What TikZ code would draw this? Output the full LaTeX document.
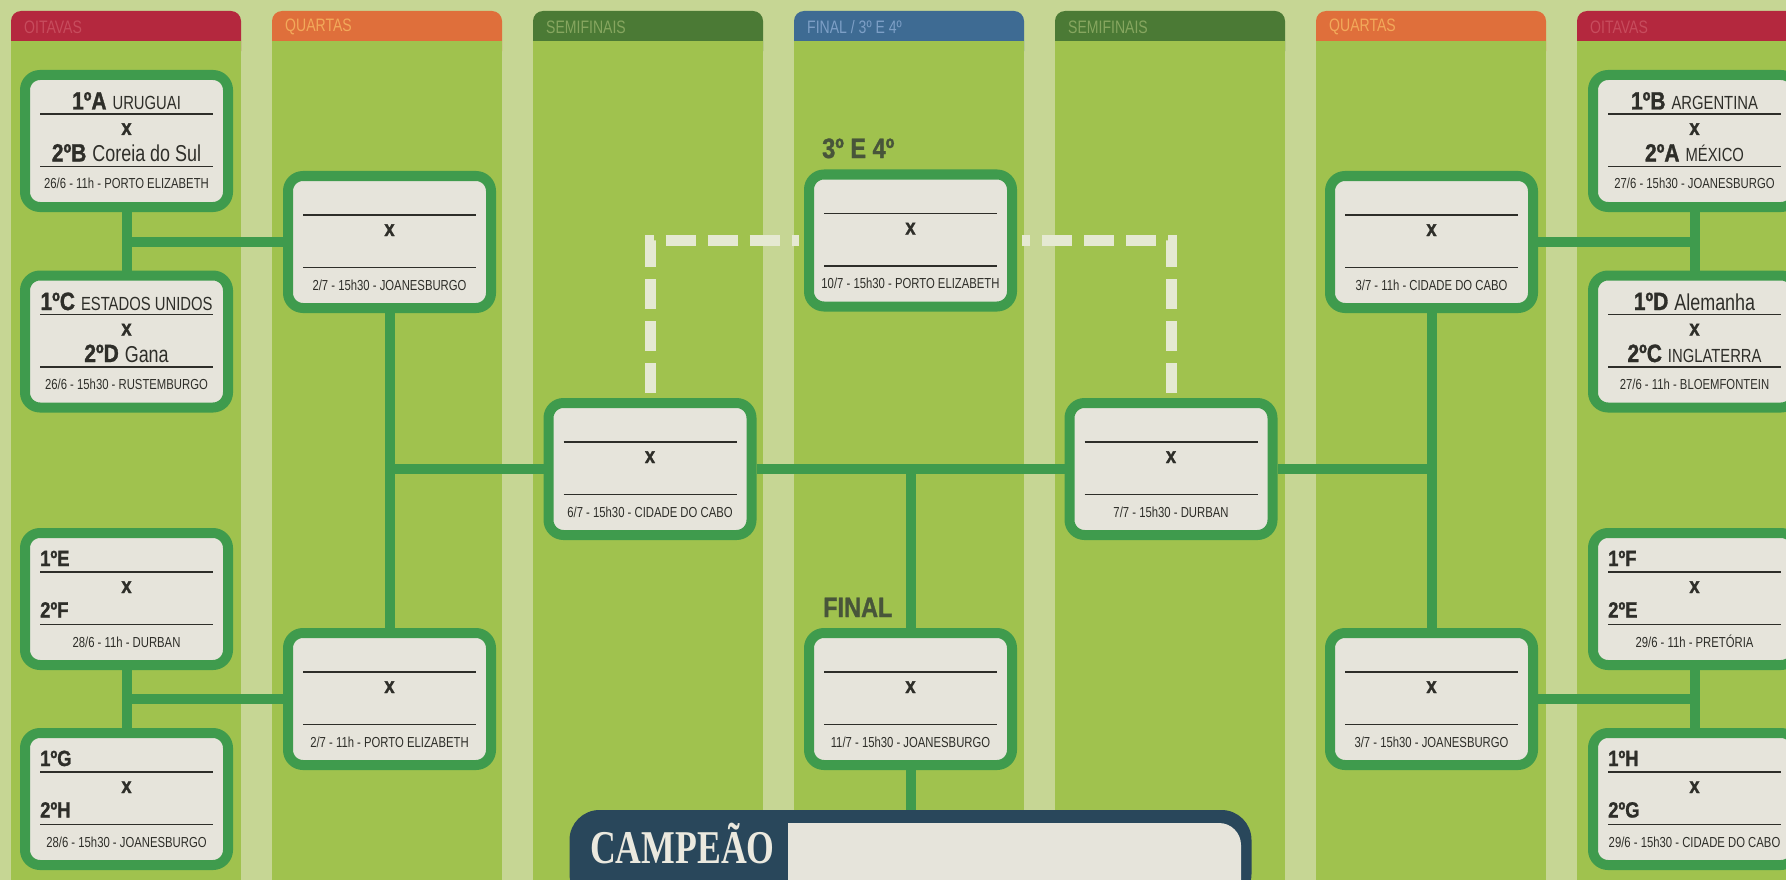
\documentclass[tikz,border=0pt]{standalone}
\usepackage{fontspec}
\setmainfont{Liberation Sans}[FakeStretch=0.78]
\newfontfamily\codefont{Liberation Sans}[FakeStretch=0.84, FakeBold=1.2]
\newfontfamily\champfont{Liberation Serif}[FakeStretch=0.76]
\usetikzlibrary{calc}

\definecolor{paper}{HTML}{C6D694}
\definecolor{colbody}{HTML}{A0C24E}
\definecolor{oitred}{HTML}{B4283E}
\definecolor{oitredtext}{HTML}{C74C5D}
\definecolor{quaorange}{HTML}{DF6F3B}
\definecolor{quaorangetext}{HTML}{F2A95A}
\definecolor{semigreen}{HTML}{4B7A35}
\definecolor{semigreentext}{HTML}{86A65F}
\definecolor{finblue}{HTML}{3E6B93}
\definecolor{finbluetext}{HTML}{7D9FC6}
\definecolor{boxgreen}{HTML}{3F9B4D}
\definecolor{boxfill}{HTML}{E6E4DB}
\definecolor{ink}{HTML}{2E2E29}
\definecolor{dashcol}{HTML}{E5E9D2}
\definecolor{labelink}{HTML}{48553A}
\definecolor{champdark}{HTML}{29475B}
\definecolor{champtext}{HTML}{EBE9DF}

\newcommand\seed[1]{{\codefont\bfseries\fontsize{25}{25}\selectfont#1}\hspace{6pt}}
\newcommand\bigname[1]{{\fontsize{23}{23}\selectfont#1}}
\newcommand\capname[1]{{\fontsize{19}{19}\selectfont#1}}

\begin{document}
\begin{tikzpicture}[x=1pt, y=-1pt,
        game/.style={draw=boxgreen, line width=10pt, fill=boxfill, rounded corners=15pt,
            minimum width=203pt, minimum height=132pt, inner sep=0pt},
        link/.style={draw=boxgreen, line width=10pt},
        third place/.style={draw=dashcol, line width=11pt, dash pattern=on 30pt off 12pt,
            shorten <=5pt, shorten >=5pt},
        rule/.style={draw=ink, line width=1.3pt},
        head/.style={anchor=west, inner sep=0pt, font=\fontsize{18}{18}\selectfont},
        team/.style={anchor=base, inner sep=0pt, text=ink},
        seedleft/.style={anchor=base west, inner sep=0pt, text=ink,
            font=\codefont\bfseries\fontsize{22}{22}\selectfont},
        versus/.style={anchor=base, inner sep=0pt, text=ink,
            font=\codefont\bfseries\fontsize{22}{22}\selectfont},
        when/.style={anchor=base, inner sep=0pt, text=ink, font=\fontsize{14.5}{14.5}\selectfont},
        round label/.style={anchor=base west, inner sep=0pt, text=labelink,
            font=\codefont\bfseries\fontsize{28}{28}\selectfont},
        champ/.style={fill=champdark, rounded corners=30pt, minimum width=682pt,
            minimum height=94pt, inner sep=0pt}]

    \useasboundingbox (0,0) rectangle (1786,880);
    \clip (0,0) rectangle (1786,880);
    \fill[paper] (0,0) rectangle (1786,880);

    % columns and their headers
    \foreach \i/\hcol/\tcol/\htext in {0/oitred/oitredtext/OITAVAS, 1/quaorange/quaorangetext/QUARTAS,
            2/semigreen/semigreentext/SEMIFINAIS, 3/finblue/finbluetext/{FINAL / 3º E 4º},
            4/semigreen/semigreentext/SEMIFINAIS, 5/quaorange/quaorangetext/QUARTAS,
            6/oitred/oitredtext/OITAVAS}
    {
        \fill[\hcol, rounded corners=10pt] (11+261*\i,11) rectangle ++(230,50);
        \fill[colbody] (11+261*\i,41) rectangle ++(230,850);
        \node[head, text=\tcol] (head\i) at (24+261*\i,27) {\htext};
    }

    % match boxes
    \foreach \n/\x/\y in {A/126.5/141, C/126.5/341.5, E/126.5/599, G/126.5/799,
            B/1694.5/141, D/1694.5/341.5, F/1694.5/599, H/1694.5/799,
            QA/389.5/242, QB/389.5/699, QC/1431.5/242, QD/1431.5/699,
            SA/650/469, SB/1171/469, T/910.5/240.5, FIN/910.5/699}
        \node[game] (\n) at (\x,\y) {};

    \node[champ] (champ) at (910.5,857) {};
    \fill[boxfill, rounded corners=22pt] (788,823) rectangle (1241,920);
    \fill[boxfill] (788,823) rectangle (830,880);
    \node[anchor=base west, inner sep=0pt, text=champtext,
        font=\champfont\bfseries\fontsize{47}{47}\selectfont] (champword) at (590,863) {CAMPEÃO};

    % bracket
    \draw[link] (A.south) -- (C.north);
    \draw[link] (A.south) |- (QA.west);
    \draw[link] (E.south) -- (G.north);
    \draw[link] (E.south) |- (QB.west);
    \draw[link] (B.south) -- (D.north);
    \draw[link] (B.south) |- (QC.east);
    \draw[link] (F.south) -- (H.north);
    \draw[link] (F.south) |- (QD.east);
    \draw[link] (QA.south) -- (QB.north);
    \draw[link] (QA.south) |- (SA.west);
    \draw[link] (QC.south) -- (QD.north);
    \draw[link] (QC.south) |- (SB.east);
    \draw[link] (SA.east) -- (SB.west);
    \draw[link] (FIN.north) -- (FIN.north |- SA.east);
    \draw[link] (FIN.south) -- (champ.north);
    \draw[third place] (SA.north) |- (T.west);
    \draw[third place] (SB.north) |- (T.east);

    % rules and x in every box
    \foreach \n in {A,C,E,G,B,D,F,H,QA,QB,QC,QD,SA,SB,T,FIN}
    {
        \draw[rule] ($(\n.center)+(-86.5,-27)$) -- ($(\n.center)+(86.5,-27)$);
        \draw[rule] ($(\n.center)+(-86.5,25.5)$) -- ($(\n.center)+(86.5,25.5)$);
        \node[versus] (\n-x) at ($(\n.center)+(0,-6)$) {x};
    }

    \foreach \n/\when in {A/{26/6 - 11h - PORTO ELIZABETH}, C/{26/6 - 15h30 - RUSTEMBURGO},
            E/{28/6 - 11h - DURBAN}, G/{28/6 - 15h30 - JOANESBURGO},
            B/{27/6 - 15h30 - JOANESBURGO}, D/{27/6 - 11h - BLOEMFONTEIN},
            F/{29/6 - 11h - PRETÓRIA}, H/{29/6 - 15h30 - CIDADE DO CABO},
            QA/{2/7 - 15h30 - JOANESBURGO}, QB/{2/7 - 11h - PORTO ELIZABETH},
            QC/{3/7 - 11h - CIDADE DO CABO}, QD/{3/7 - 15h30 - JOANESBURGO},
            SA/{6/7 - 15h30 - CIDADE DO CABO}, SB/{7/7 - 15h30 - DURBAN},
            T/{10/7 - 15h30 - PORTO ELIZABETH}, FIN/{11/7 - 15h30 - JOANESBURGO}}
        \node[when] (\n-when) at ($(\n.center)+(0,48)$) {\when};

    % teams
    \foreach \n/\teamup/\teamdn in {A/{\seed{1ºA}\capname{URUGUAI}}/{\seed{2ºB}\bigname{Coreia do Sul}},
            C/{\seed{1ºC}\capname{ESTADOS UNIDOS}}/{\seed{2ºD}\bigname{Gana}},
            B/{\seed{1ºB}\capname{ARGENTINA}}/{\seed{2ºA}\capname{MÉXICO}},
            D/{\seed{1ºD}\bigname{Alemanha}}/{\seed{2ºC}\capname{INGLATERRA}}}
    {
        \node[team] (\n-up) at ($(\n.center)+(0,-31.5)$) {\teamup};
        \node[team] (\n-dn) at ($(\n.center)+(0,20.5)$) {\teamdn};
    }
    \foreach \n/\teamup/\teamdn in {E/1ºE/2ºF, G/1ºG/2ºH, F/1ºF/2ºE, H/1ºH/2ºG}
    {
        \node[seedleft] (\n-up) at ($(\n.center)+(-86.5,-33)$) {\teamup};
        \node[seedleft] (\n-dn) at ($(\n.center)+(-86.5,18.5)$) {\teamdn};
    }

    \node[round label] (thirdlabel) at (822,158) {3º E 4º};
    \node[round label] (finallabel) at (823,617) {FINAL};
\end{tikzpicture}
\end{document}
